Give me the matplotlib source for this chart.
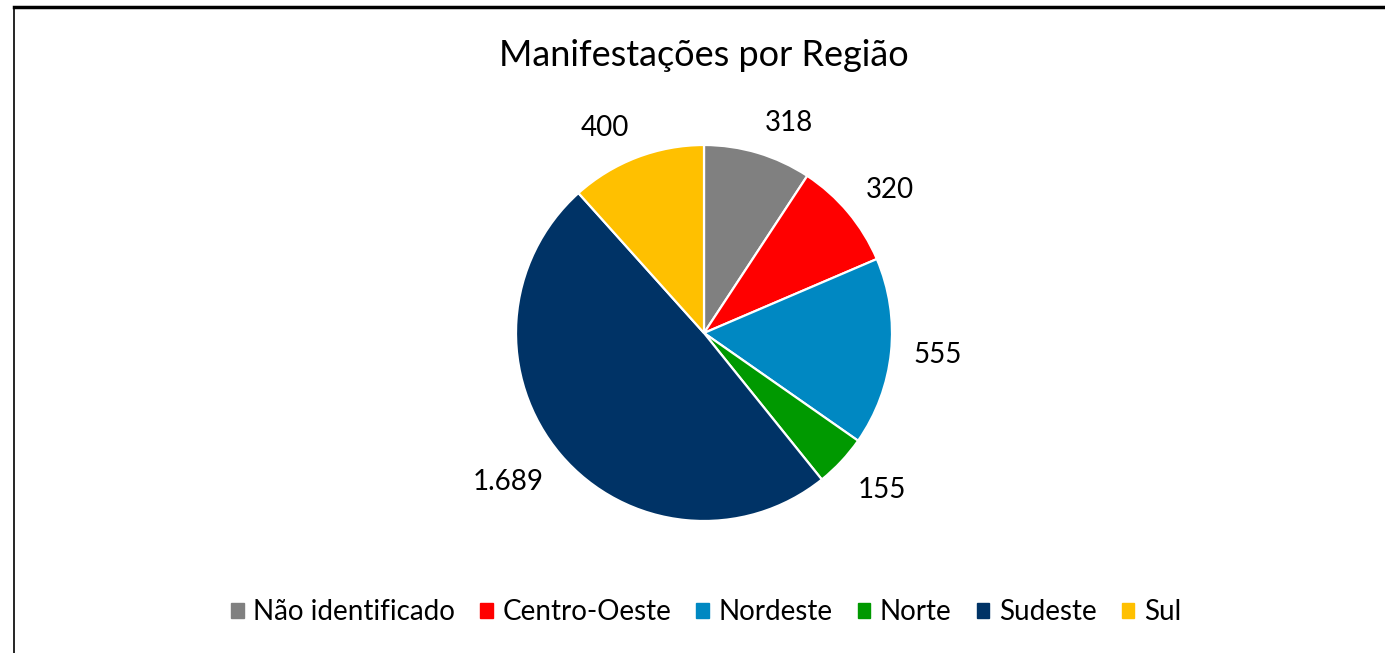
import matplotlib.pyplot as plt
from matplotlib.lines import Line2D
import numpy as np

plt.rcParams['font.family'] = ['Lato', 'DejaVu Sans']

regioes = ["Não identificado", "Centro-Oeste", "Nordeste", "Norte", "Sudeste", "Sul"]
valores = [318, 320, 555, 155, 1689, 400]
rotulos = ["318", "320", "555", "155", "1.689", "400"]
cores = ["#808080", "#FF0000", "#0088C2", "#009900", "#003366", "#FFC000"]

W, H = 1385, 653
fig = plt.figure(figsize=(W / 100, H / 100), dpi=100)

# pie centre / radius in pixels
cx, cy, r = 704, 333, 188
k = 1.5
side = 2 * r * k
ax = fig.add_axes([(cx - side / 2) / W, (H - cy - side / 2) / H, side / W, side / H])
wedges, _ = ax.pie(valores, colors=cores, startangle=90, counterclock=False,
                   wedgeprops=dict(edgecolor="white", linewidth=1.6))
ax.set_xlim(-k, k)
ax.set_ylim(-k, k)
ax.set_aspect("equal")
ax.axis("off")

# labels "outside end": corner of the text box sits on the mid-angle ray
for w, lab in zip(wedges, rotulos):
    ang = np.deg2rad((w.theta1 + w.theta2) / 2)
    c, s = np.cos(ang), np.sin(ang)
    ha = "left" if c > 0.15 else ("right" if c < -0.15 else "center")
    va = "baseline" if s > 0.2 else ("top" if s < -0.2 else "center")
    d = 1.12
    ax.text(d * c, d * s, lab, ha=ha, va=va, fontsize=20, color="#000000")

fig.text(cx / W, 1 - 55 / H, "Manifestações por Região", ha="center", va="center",
         fontsize=26)

handles = [plt.Rectangle((0, 0), 1, 1, color=c) for c in cores]
fig.legend(handles, regioes, loc="center", bbox_to_anchor=(706 / W, 1 - 612 / H),
           ncol=6, frameon=False, fontsize=20, handlelength=0.45, handleheight=0.45,
           handletextpad=0.35, columnspacing=0.9)

# chart border (cropped)
fig.add_artist(Line2D([14 / W, 1], [1 - 7 / H, 1 - 7 / H], color="black", lw=2.5,
                      transform=fig.transFigure))
fig.add_artist(Line2D([14 / W, 14 / W], [0, 1 - 7 / H], color="black", lw=1.2,
                      transform=fig.transFigure))

fig.savefig("out.png", dpi=100, facecolor="white")
